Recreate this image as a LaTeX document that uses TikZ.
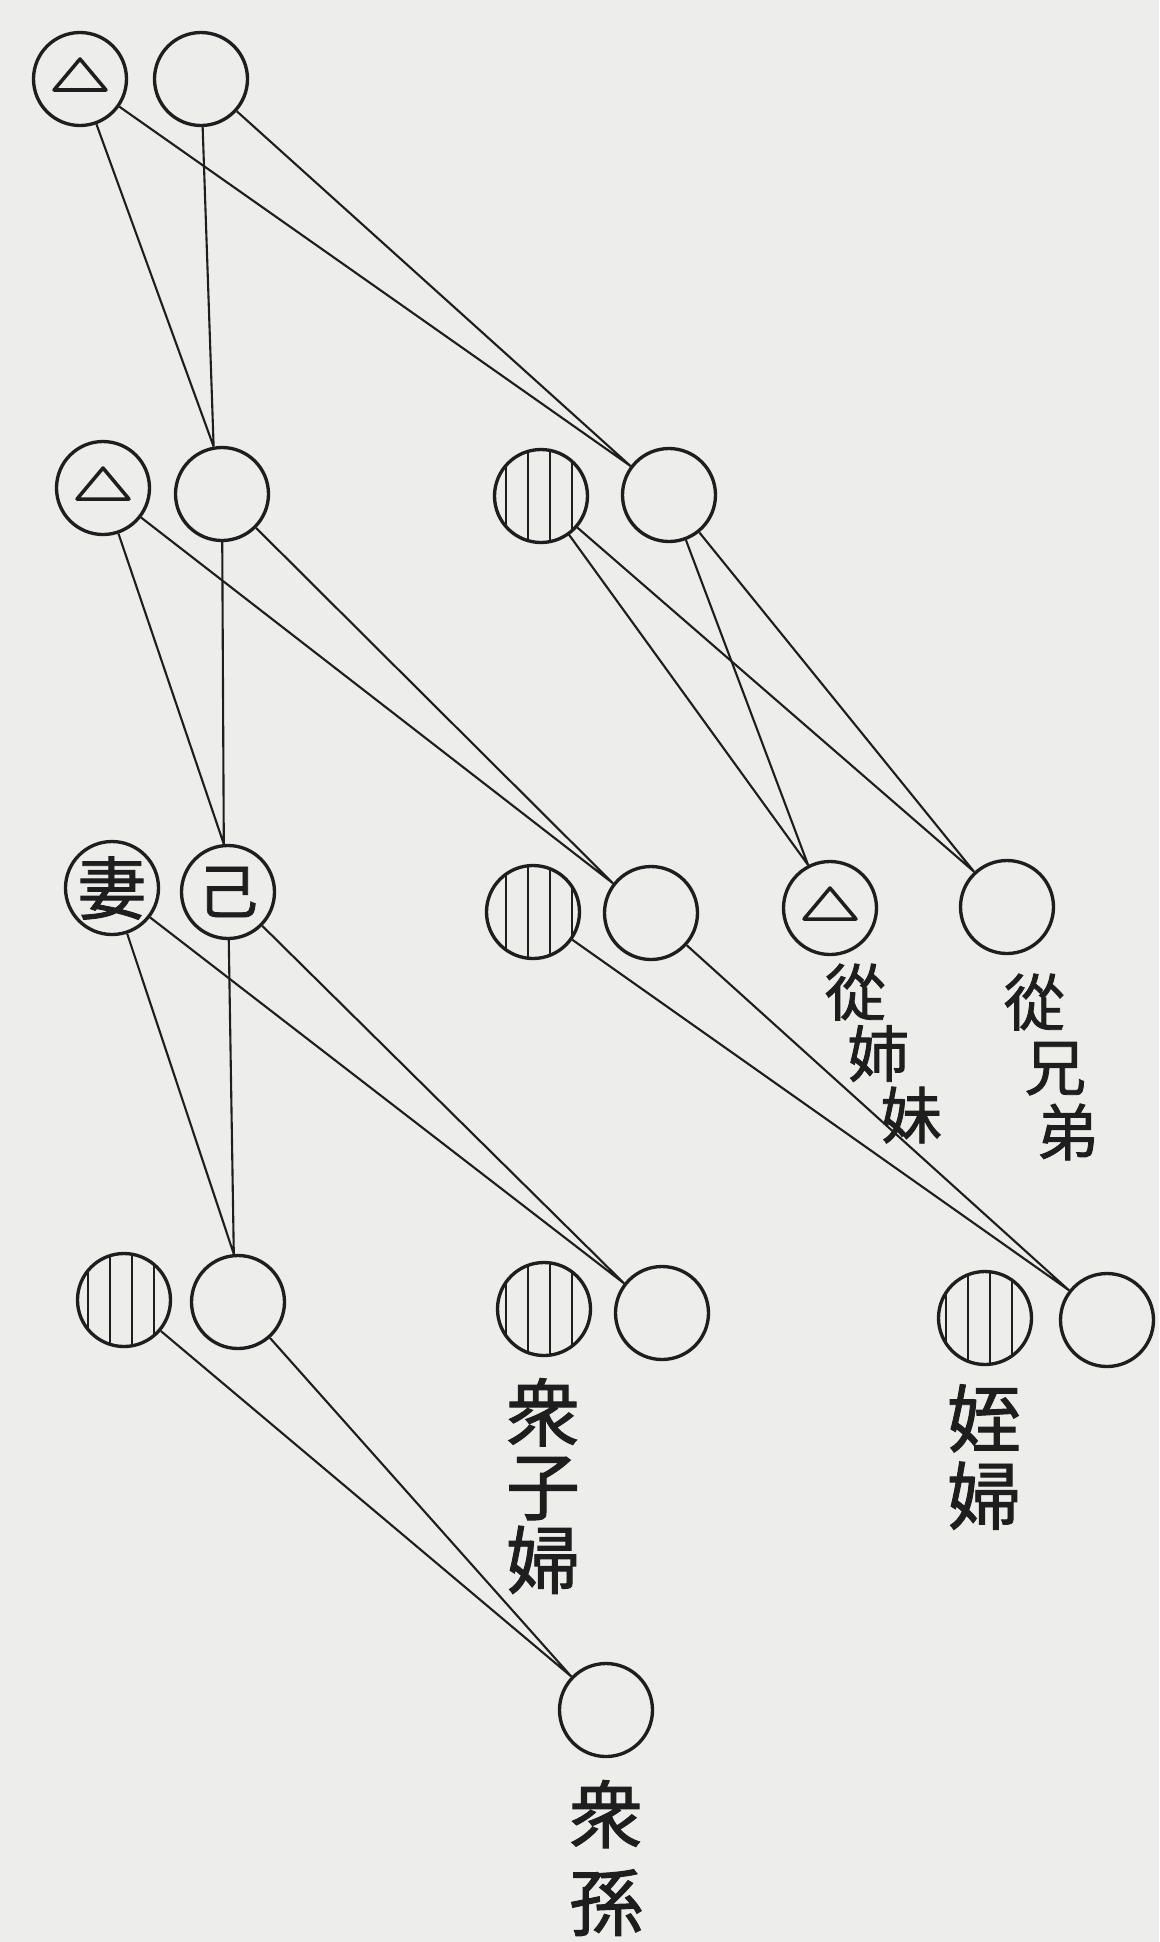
\documentclass[tikz,border=0pt]{standalone}
\usepackage{fontspec}
\newfontfamily\cjk[FakeBold=1.3]{Noto Sans CJK JP}
\usetikzlibrary{patterns.meta}
\definecolor{paper}{RGB}{237,237,236}
\definecolor{ink}{RGB}{30,30,30}

\begin{document}
\begin{tikzpicture}[x=1cm,y=-1cm,
  kin/.style={circle,draw=ink,line width=0.95pt,minimum size=0.93cm,inner sep=0pt,text=ink,font=\cjk\fontsize{17}{17}\selectfont},
  kintri/.style={kin,path picture={\draw[ink,line width=1pt,line join=round]
      ([shift={(-0.26cm,-0.11cm)}]path picture bounding box.center) -- ++(0.52cm,0cm) -- ++(-0.26cm,0.31cm) -- cycle;}},
  kinhatch/.style={kin,pattern={Lines[angle=90,distance=2.2mm,line width=0.6pt]},pattern color=ink},
  link/.style={draw=ink,line width=0.6pt},
  kinlabel/.style={inner sep=0pt,text=ink,font=\cjk\fontsize{21}{21}\selectfont},
  slantlabel/.style={kinlabel,anchor=north west,align=left,font=\cjk\fontsize{17.5}{17.5}\selectfont}]
\fill[paper] (0,0) rectangle (11.59,19.42);
\useasboundingbox (0,0) rectangle (11.59,19.42);

\node[kintri] (A1) at (0.80,0.79) {};
\node[kin] (A2) at (2.01,0.79) {};
\node[kintri] (B1) at (1.03,4.88) {};
\node[kin] (B2) at (2.22,4.94) {};
\node[kinhatch] (B3) at (5.41,4.96) {};
\node[kin] (B4) at (6.69,4.95) {};
\node[kin,font=\cjk\fontsize{19.5}{19.5}\selectfont] (C1) at (1.12,8.88) {妻};
\node[kin] (C2) at (2.28,8.92) {己};
\node[kinhatch] (C3) at (5.33,9.12) {};
\node[kin] (C4) at (6.51,9.13) {};
\node[kintri] (C5) at (8.30,9.08) {};
\node[kin] (C6) at (10.07,9.07) {};
\node[kinhatch] (D1) at (1.24,13.00) {};
\node[kin] (D2) at (2.38,13.02) {};
\node[kinhatch] (D3) at (5.44,13.09) {};
\node[kin] (D4) at (6.62,13.13) {};
\node[kinhatch] (D5) at (9.85,13.18) {};
\node[kin] (D6) at (11.07,13.20) {};
\node[kin] (E) at (6.06,17.10) {};

\draw[link] (A1) -- (B2.100) (A2) -- (B2.100);
\draw[link] (A1) -- (B4.143) (A2) -- (B4.143);
\draw[link] (B1) -- (C2.95) (B2) -- (C2.95);
\draw[link] (B1) -- (C4.142) (B2) -- (C4.142);
\draw[link] (B3) -- (C5.117) (B4) -- (C5.117);
\draw[link] (B3) -- (C6.133) (B4) -- (C6.133);
\draw[link] (C1) -- (D2.95) (C2) -- (D2.95);
\draw[link] (C1) -- (D4.142) (C2) -- (D4.142);
\draw[link] (C3) -- (D6.142) (C4) -- (D6.142);
\draw[link] (D1) -- (E.136) (D2) -- (E.136);

\node[slantlabel] (cousinF) at (8.24,9.63) {從\\[0pt]\hspace*{0.37em}姉\\[0pt]\hspace*{0.91em}妹};
\node[slantlabel] (cousinM) at (10.03,9.73) {從\\[1pt]\hspace*{0.34em}兄\\[1pt]\hspace*{0.54em}弟};
\node[kinlabel,align=center] (sonwife) at (5.43,14.86) {衆\\子\\婦};
\node[kinlabel,align=center] (nephwife) at (9.84,14.57) {姪\\[1pt]婦};
\node[kinlabel,align=center] (grandson) at (6.06,18.58) {衆\\[4pt]孫};
\end{tikzpicture}
\end{document}
